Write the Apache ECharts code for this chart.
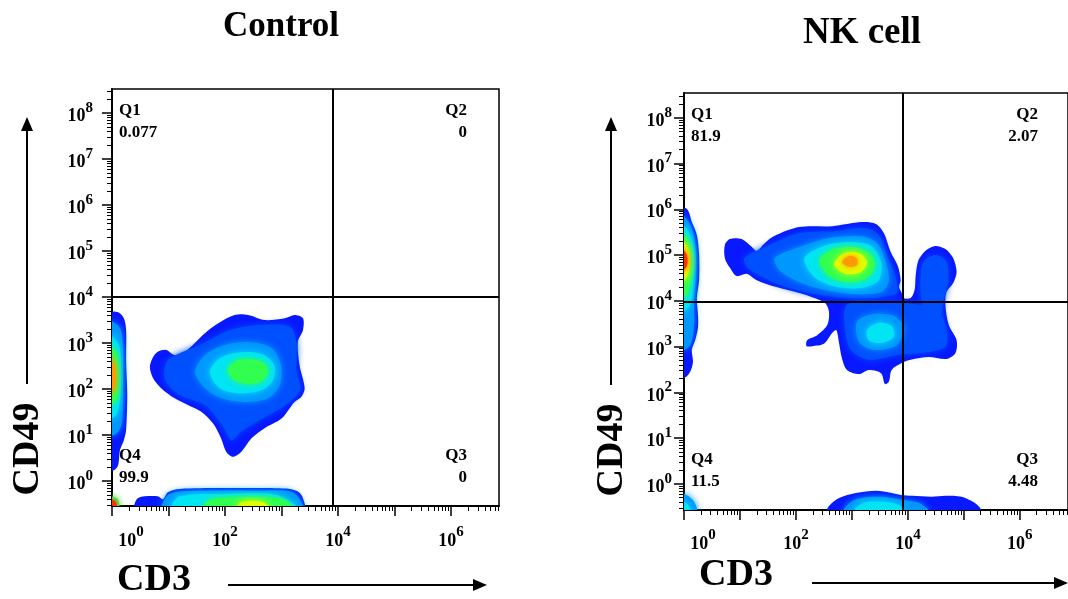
<!DOCTYPE html>
<html>
<head>
<meta charset="utf-8">
<script src="https://cdn.jsdelivr.net/npm/echarts@6/dist/echarts.min.js"></script>
<style>
  html, body { margin: 0; padding: 0; background: #fff; }
  #main { width: 1068px; height: 599px; }
</style>
</head>
<body>
<div id="main"></div>
<script>
// all positions are log10 of the fluorescence intensity
var xLabelExp = [0, 2, 4, 6];
var yLabelExp = [0, 1, 2, 3, 4, 5, 6, 7, 8];
var panelTitles = ['Control', 'NK cell'];
var quadNames = ['Q1', 'Q2', 'Q3', 'Q4'];
var ctrlQuadPct = ['0.077', '0', '0', '99.9'];
var nkQuadPct = ['81.9', '2.07', '4.48', '11.5'];
var ctrlGate = [3.9, 4.0];
var nkGate = [3.9, 3.97];

// density contours, Control
var ctrlMain0 = [[0.67,2.48],[0.73,2.70],[0.81,2.81],[0.96,2.85],[1.11,2.74],[1.29,2.81],[1.64,3.21],[1.88,3.43],[2.17,3.61],[2.41,3.61],[2.70,3.50],[3.06,3.54],[3.23,3.61],[3.38,3.54],[3.38,3.28],[3.29,3.03],[3.32,2.52],[3.41,2.02],[3.35,1.83],[3.23,1.72],[3.00,1.36],[2.70,1.15],[2.47,0.93],[2.29,0.64],[2.14,0.53],[2.02,0.64],[1.93,0.93],[1.79,1.25],[1.58,1.51],[1.35,1.65],[1.11,1.80],[0.87,2.02],[0.73,2.23]];
var ctrlMain1 = [[0.99,2.63],[1.56,2.96],[2.09,3.28],[2.62,3.39],[3.15,3.35],[3.27,2.96],[3.26,2.41],[3.33,1.98],[3.06,1.65],[2.62,1.33],[2.27,1.07],[2.12,0.89],[1.95,1.22],[1.65,1.65],[1.20,1.87],[0.94,2.20]];
var ctrlMain2 = [[1.47,2.37],[1.65,2.74],[2.00,2.96],[2.44,3.02],[2.83,2.89],[2.99,2.52],[2.97,2.09],[2.76,1.80],[2.35,1.72],[1.95,1.80],[1.65,2.02]];
var ctrlMain3 = [[1.73,2.37],[1.91,2.67],[2.27,2.80],[2.65,2.76],[2.87,2.52],[2.85,2.20],[2.65,1.98],[2.27,1.91],[1.91,2.02]];
var ctrlMain4 = [[2.05,2.41],[2.19,2.61],[2.44,2.65],[2.69,2.57],[2.76,2.37],[2.65,2.17],[2.41,2.11],[2.16,2.20]];
var ctrlEdge0 = [[-0.05,3.65],[0.11,3.67],[0.21,3.54],[0.25,3.28],[0.25,2.63],[0.27,1.87],[0.25,1.11],[0.21,0.89],[0.14,0.67],[0.11,0.35],[0.04,0.24],[-0.05,0.24]];
var ctrlEdge1 = [[-0.05,3.46],[0.14,3.33],[0.19,2.96],[0.19,1.76],[0.18,1.33],[0.11,1.07],[-0.05,1.00]];
var ctrlEdge2 = [[-0.05,3.17],[0.12,2.96],[0.16,2.41],[0.14,1.76],[0.07,1.43],[-0.05,1.37]];
var ctrlEdge3 = [[-0.05,2.96],[0.09,2.74],[0.12,2.30],[0.09,1.80],[-0.05,1.65]];
var ctrlEdge4 = [[-0.05,2.74],[0.05,2.52],[0.07,2.24],[0.04,1.98],[-0.05,1.89]];
var ctrlLow0 = [[0.41,-0.6],[0.44,-0.39],[0.58,-0.33],[0.81,-0.33],[0.90,-0.39],[0.99,-0.24],[1.20,-0.17],[1.91,-0.15],[2.62,-0.15],[3.15,-0.17],[3.31,-0.24],[3.38,-0.37],[3.40,-0.6]];
var ctrlLow1 = [[0.90,-0.6],[0.99,-0.30],[1.30,-0.22],[2.60,-0.21],[3.20,-0.24],[3.36,-0.6]];
var ctrlLow2 = [[1.06,-0.6],[1.20,-0.33],[2.00,-0.28],[2.90,-0.30],[3.28,-0.6]];
var ctrlLow3 = [[1.61,-0.6],[1.75,-0.40],[2.40,-0.35],[3.00,-0.39],[3.20,-0.6]];
var ctrlLow4 = [[2.20,-0.6],[2.30,-0.45],[2.65,-0.45],[2.80,-0.6]];
var ctrlCorner0 = [[-0.05,-0.6],[-0.05,-0.35],[0.05,-0.35],[0.11,-0.41],[0.12,-0.6]];
var ctrlCorner1 = [[-0.05,-0.6],[-0.05,-0.40],[0.06,-0.44],[0.08,-0.6]];

// density contours, NK cell
var nkEdge0 = [[-0.05,6.05],[0.07,5.98],[0.14,5.72],[0.23,5.44],[0.27,5.00],[0.27,4.45],[0.23,4.06],[0.25,3.69],[0.25,3.41],[0.20,3.14],[0.14,2.93],[0.16,2.66],[0.11,2.45],[0.04,2.34],[-0.05,2.31]];
var nkEdge1 = [[-0.05,5.87],[0.11,5.66],[0.20,5.22],[0.21,4.56],[0.18,4.02],[0.18,3.47],[0.11,3.03],[-0.05,2.93]];
var nkEdge2 = [[-0.05,5.66],[0.11,5.44],[0.18,5.00],[0.16,4.34],[0.11,3.91],[-0.05,3.76]];
var nkEdge3 = [[-0.05,5.50],[0.09,5.28],[0.14,4.93],[0.12,4.45],[0.05,4.13],[-0.05,4.06]];
var nkEdge4 = [[-0.05,5.33],[0.07,5.15],[0.11,4.89],[0.07,4.56],[-0.05,4.41]];
var nkEdge5 = [[-0.05,5.15],[0.05,5.00],[0.05,4.76],[-0.05,4.63]];
var nkCorner0 = [[-0.05,-0.6],[-0.05,-0.22],[0.07,-0.26],[0.18,-0.39],[0.23,-0.6]];
var nkCorner1 = [[-0.05,-0.6],[-0.05,-0.39],[0.07,-0.44],[0.11,-0.6]];
var nkLow0 = [[2.56,-0.6],[2.59,-0.48],[2.77,-0.31],[3.07,-0.20],[3.43,-0.15],[3.71,-0.20],[3.87,-0.24],[4.07,-0.26],[4.42,-0.28],[4.67,-0.26],[4.96,-0.28],[5.13,-0.37],[5.26,-0.48],[5.31,-0.6]];
var nkLow1 = [[2.86,-0.6],[3.04,-0.35],[3.48,-0.28],[3.93,-0.35],[4.19,-0.41],[4.37,-0.6]];
var nkLow2 = [[3.04,-0.6],[3.21,-0.41],[3.57,-0.39],[3.84,-0.46],[3.93,-0.6]];
var nkMain0 = [[0.73,5.22],[0.82,5.35],[1.03,5.35],[1.21,5.18],[1.30,5.09],[1.44,5.26],[1.62,5.42],[2.06,5.61],[2.65,5.63],[3.18,5.72],[3.43,5.68],[3.57,5.48],[3.69,5.07],[3.82,4.76],[3.87,4.45],[3.84,4.30],[3.89,4.17],[3.91,4.06],[4.05,4.06],[4.12,4.24],[4.14,4.56],[4.19,4.89],[4.33,5.11],[4.49,5.20],[4.67,5.13],[4.81,4.93],[4.87,4.63],[4.81,4.39],[4.69,4.19],[4.67,3.91],[4.73,3.47],[4.87,3.14],[4.85,2.86],[4.69,2.73],[4.37,2.77],[4.05,2.71],[3.89,2.64],[3.71,2.49],[3.66,2.23],[3.59,2.18],[3.52,2.42],[3.30,2.49],[3.13,2.40],[2.91,2.49],[2.82,2.75],[2.77,3.08],[2.72,3.36],[2.65,3.30],[2.50,3.06],[2.29,3.01],[2.19,3.01],[2.20,3.14],[2.38,3.25],[2.56,3.47],[2.59,3.76],[2.52,3.95],[2.33,4.06],[2.06,4.17],[1.65,4.30],[1.30,4.45],[1.12,4.59],[0.94,4.54],[0.82,4.72],[0.73,4.93]];
var nkMain1 = [[1.08,4.93],[1.53,5.22],[2.06,5.48],[2.68,5.52],[3.22,5.59],[3.48,5.44],[3.62,5.00],[3.77,4.56],[3.80,4.17],[3.48,4.08],[2.95,4.06],[2.42,4.13],[1.88,4.28],[1.44,4.50],[1.14,4.72]];
var nkMain2 = [[1.62,4.93],[2.06,5.17],[2.59,5.37],[3.16,5.41],[3.45,5.26],[3.59,4.89],[3.66,4.45],[3.52,4.19],[3.04,4.15],[2.50,4.24],[2.06,4.41],[1.71,4.67]];
var nkMain3 = [[2.15,4.93],[2.50,5.20],[2.95,5.28],[3.34,5.20],[3.52,4.85],[3.48,4.45],[3.16,4.28],[2.68,4.32],[2.33,4.52]];
var nkMain4 = [[2.42,4.89],[2.68,5.13],[3.04,5.17],[3.34,5.02],[3.41,4.76],[3.27,4.50],[2.95,4.41],[2.59,4.54]];
var nkMain5 = [[2.68,4.80],[2.86,5.04],[3.13,5.04],[3.27,4.85],[3.16,4.63],[2.88,4.59]];
var nkMain6 = [[2.82,4.85],[2.95,4.98],[3.09,4.93],[3.09,4.78],[2.95,4.74]];
var nkLower1 = [[2.91,3.91],[3.48,3.97],[3.93,3.95],[4.46,3.84],[4.64,3.58],[4.69,3.03],[4.37,2.88],[3.84,2.82],[3.30,2.71],[2.98,2.93],[2.88,3.36]];
var nkLower2 = [[3.09,3.54],[3.39,3.71],[3.75,3.67],[3.93,3.41],[3.80,3.03],[3.39,2.93],[3.13,3.10]];
var nkLower3 = [[3.27,3.36],[3.48,3.52],[3.71,3.45],[3.75,3.21],[3.52,3.08],[3.30,3.14]];
var nkTower1 = [[4.28,4.85],[4.49,5.00],[4.69,4.85],[4.72,4.45],[4.64,4.02],[4.55,3.58],[4.33,3.62],[4.23,4.13],[4.23,4.56]];

// [contour, density level]
var ctrlContours = [
  [ctrlMain0, 0], [ctrlMain1, 1], [ctrlMain2, 2], [ctrlMain3, 3], [ctrlMain4, 4],
  [ctrlEdge0, 0], [ctrlEdge1, 2], [ctrlEdge2, 3], [ctrlEdge3, 4], [ctrlEdge4, 6],
  [ctrlLow0, 0], [ctrlLow1, 2], [ctrlLow2, 3], [ctrlLow3, 4], [ctrlLow4, 5],
  [ctrlCorner0, 4], [ctrlCorner1, 7]
];
var nkContours = [
  [nkEdge0, 0], [nkEdge1, 2], [nkEdge2, 3], [nkEdge3, 4], [nkEdge4, 5], [nkEdge5, 7],
  [nkCorner0, 2], [nkCorner1, 3],
  [nkLow0, 0], [nkLow1, 2], [nkLow2, 3],
  [nkMain0, 0], [nkMain1, 1], [nkMain2, 2], [nkMain3, 3], [nkMain4, 4], [nkMain5, 5], [nkMain6, 6],
  [nkLower1, 1], [nkLower2, 2], [nkLower3, 3],
  [nkTower1, 1]
];

var levelColors = ['#0818ff', '#0050ff', '#0098ff', '#00e4f4', '#30ff50', '#e0ff00', '#ff9a00', '#ff3000'];
var SERIF = '"Liberation Serif", "Times New Roman", serif';

var grids = [
  { left: 112, top: 89, width: 387, height: 417 },
  { left: 684, top: 93, width: 386, height: 417 }
];
var xRanges = [[0, 6.85], [0, 6.86]];
var yRanges = [[-0.54, 8.52], [-0.57, 8.54]];
var yMargins = [19, 12];
var xMargins = [19, 18];

// tick positions on a log axis
var majorX = [], minorX = [], majorY = [], minorY = [];
for (var n = -1; n <= 8; n++) {
  if (n >= 0 && n <= 6) majorX.push(n);
  if (n >= 0) majorY.push(n);
  for (var k = 2; k <= 9; k++) {
    var v = n + Math.log10(k);
    if (n >= 0 && v < 6.85) minorX.push(v);
    if (v > -0.54 && v < 8.52) minorY.push(v);
  }
}

var richExp = {
  g: { width: 38 },
  b: { fontFamily: SERIF, fontWeight: 'bold', fontSize: 18, color: '#000', verticalAlign: 'bottom' },
  s: { fontFamily: SERIF, fontWeight: 'bold', fontSize: 15, color: '#000', verticalAlign: 'bottom', padding: [0, 0, 10, 0] }
};
function xLabel(v) { return (v === 0 ? '{g|}' : '') + '{b|10}{s|' + v + '}'; }
function yLabel(v) { return '{b|10}{s|' + v + '}'; }

var xAxes = [], yAxes = [], series = [];
grids.forEach(function (g, gi) {
  xAxes.push({
    gridIndex: gi, type: 'value', position: 'bottom', min: xRanges[gi][0], max: xRanges[gi][1],
    axisLine: { show: true, onZero: false, lineStyle: { color: '#000', width: 2 } },
    axisTick: { show: true, customValues: majorX, length: 10, lineStyle: { color: '#000', width: 1.5 } },
    axisLabel: { customValues: xLabelExp, margin: xMargins[gi], formatter: xLabel, rich: richExp },
    splitLine: { show: false }
  }, {
    gridIndex: gi, type: 'value', position: 'bottom', offset: 0, min: xRanges[gi][0], max: xRanges[gi][1],
    axisLine: { show: false, onZero: false },
    axisTick: { show: true, customValues: minorX, length: 5, lineStyle: { color: '#000', width: 1 } },
    axisLabel: { show: false }, splitLine: { show: false }
  });
  yAxes.push({
    gridIndex: gi, type: 'value', position: 'left', min: yRanges[gi][0], max: yRanges[gi][1],
    axisLine: { show: true, onZero: false, lineStyle: { color: '#000', width: 2 } },
    axisTick: { show: true, customValues: majorY, length: 10, lineStyle: { color: '#000', width: 1.5 } },
    axisLabel: { customValues: yLabelExp, margin: yMargins[gi], formatter: yLabel, rich: richExp },
    splitLine: { show: false }
  }, {
    gridIndex: gi, type: 'value', position: 'left', offset: 0, min: yRanges[gi][0], max: yRanges[gi][1],
    axisLine: { show: false, onZero: false },
    axisTick: { show: true, customValues: minorY, length: 5, lineStyle: { color: '#000', width: 1 } },
    axisLabel: { show: false }, splitLine: { show: false }
  });
});

function contourSeries(points, level, gi) {
  var c = levelColors[level];
  return {
    type: 'custom', coordinateSystem: 'cartesian2d',
    xAxisIndex: gi * 2, yAxisIndex: gi * 2,
    clip: true, silent: true, animation: false,
    encode: { x: 0, y: 1 },
    data: points,
    renderItem: function (params, api) {
      if (params.context.rendered) return;
      params.context.rendered = true;
      var pts = points.map(function (p) { return api.coord(p); });
      return {
        type: 'polygon',
        shape: { points: pts, smooth: 0.3 },
        style: { fill: c, shadowBlur: level > 0 ? 7 : 0, shadowColor: c }
      };
    }
  };
}

[ctrlContours, nkContours].forEach(function (list, gi) {
  list.forEach(function (item) { series.push(contourSeries(item[0], item[1], gi)); });
});

// quadrant gates
[ctrlGate, nkGate].forEach(function (gate, gi) {
  series.push({
    type: 'line', xAxisIndex: gi * 2, yAxisIndex: gi * 2, data: [], z: 10,
    markLine: {
      silent: true, symbol: 'none', animation: false,
      label: { show: false },
      lineStyle: { color: '#000', width: 2, type: 'solid' },
      data: [{ xAxis: gate[0] }, { yAxis: gate[1] }]
    }
  });
});

// free text and arrows
var graphics = [];
function txt(x, y, s, font, align, rot) {
  graphics.push({
    type: 'text', x: x, y: y, rotation: rot || 0, z: 20,
    style: { text: s, font: font, fill: '#000', align: align, textAlign: align, verticalAlign: 'middle', textVerticalAlign: 'middle' }
  });
}
function arrow(x1, y1, x2, y2) {
  var dx = x2 - x1, dy = y2 - y1, len = Math.sqrt(dx * dx + dy * dy);
  var ux = dx / len, uy = dy / len, hl = 14, hw = 6;
  var bx = x2 - ux * hl, by = y2 - uy * hl;
  graphics.push({ type: 'line', z: 20, shape: { x1: x1, y1: y1, x2: bx, y2: by }, style: { stroke: '#000', lineWidth: 2 } });
  graphics.push({ type: 'polygon', z: 20, shape: { points: [[x2, y2], [bx - uy * hw, by + ux * hw], [bx + uy * hw, by - ux * hw]] }, style: { fill: '#000' } });
}

var quadPct = [ctrlQuadPct, nkQuadPct];
grids.forEach(function (g, gi) {
  var qf = 'bold 17px ' + SERIF;
  var lx = g.left + 7, rx = Math.min(g.left + g.width - 32, 1038);
  var ty = g.top + 22, by = g.top + g.height - 50;
  txt(lx, ty, quadNames[0], qf, 'left');
  txt(lx, ty + 22, quadPct[gi][0], qf, 'left');
  txt(rx, ty, quadNames[1], qf, 'right');
  txt(rx, ty + 22, quadPct[gi][1], qf, 'right');
  txt(rx, by, quadNames[2], qf, 'right');
  txt(rx, by + 22, quadPct[gi][2], qf, 'right');
  txt(lx, by, quadNames[3], qf, 'left');
  txt(lx, by + 22, quadPct[gi][3], qf, 'left');
});
txt(281, 27, panelTitles[0], 'bold 35px ' + SERIF, 'center');
txt(862, 33, panelTitles[1], 'bold 37px ' + SERIF, 'center');
txt(28, 449, 'CD49', 'bold 38px ' + SERIF, 'center', Math.PI / 2);
txt(612, 450, 'CD49', 'bold 38px ' + SERIF, 'center', Math.PI / 2);
txt(154, 580, 'CD3', 'bold 38px ' + SERIF, 'center');
txt(736, 575, 'CD3', 'bold 38px ' + SERIF, 'center');
arrow(27, 384, 27, 117);
arrow(611, 385, 611, 117);
arrow(228, 585, 487, 585);
arrow(812, 583, 1068, 583);

var chart = echarts.init(document.getElementById('main'), null, { renderer: 'canvas' });
chart.setOption({
  backgroundColor: '#fff',
  animation: false,
  grid: grids.map(function (g) {
    return { left: g.left, top: g.top, width: g.width, height: g.height, show: true, borderColor: '#000', borderWidth: 1.5, backgroundColor: 'transparent' };
  }),
  xAxis: xAxes,
  yAxis: yAxes,
  series: series,
  graphic: graphics
});
</script>
</body>
</html>
